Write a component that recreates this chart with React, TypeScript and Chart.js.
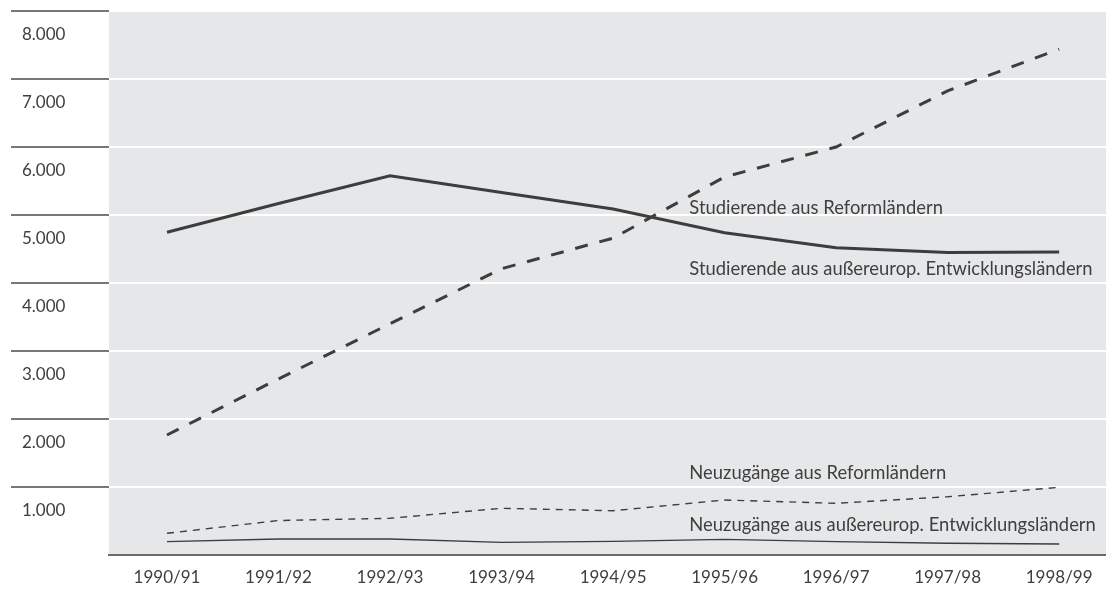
import React, { useEffect, useRef } from "react";
import { Chart, registerables } from "chart.js";

Chart.register(...registerables);

// ---- data ----
const categories = ["1990/91", "1991/92", "1992/93", "1993/94", "1994/95", "1995/96", "1996/97", "1997/98", "1998/99"];
const studierendeReform = [1765, 2590, 3400, 4210, 4660, 5560, 6000, 6825, 7440];
const studierendeEntw = [4746, 5169, 5578, 5332, 5088, 4740, 4520, 4450, 4455];
const neuzugaengeReform = [319, 507, 540, 687, 651, 809, 760, 857, 995];
const neuzugaengeEntw = [196, 235, 235, 186, 201, 230, 196, 172, 162];
const yTickValues = [0, 1000, 2000, 3000, 4000, 5000, 6000, 7000, 8000];
const yTickLabels = ["", "1.000", "2.000", "3.000", "4.000", "5.000", "6.000", "7.000", "8.000"];
const seriesNames = [
  "Studierende aus Reformländern",
  "Studierende aus außereurop. Entwicklungsländern",
  "Neuzugänge aus Reformländern",
  "Neuzugänge aus außereurop. Entwicklungsländern",
];
const labelXIndex = [4.684, 4.684, 4.684, 4.684];
const labelYValue = [5096, 4199, 1199, 441];

const FONT = "Lato";
const TEXT_COLOR = "#3f3f3f";
const LINE_COLOR = "#3d3d3d";

const bgPlugin = {
  id: "plotBg",
  beforeDraw(chart: any) {
    const { ctx, chartArea } = chart;
    ctx.save();
    ctx.fillStyle = "#e6e7e8";
    ctx.fillRect(chartArea.left, chartArea.top, chartArea.right - chartArea.left, chartArea.bottom - chartArea.top);
    ctx.restore();
  },
};

const seriesLabelPlugin = {
  id: "seriesLabels",
  afterDatasetsDraw(chart: any) {
    const { ctx, scales } = chart;
    ctx.save();
    ctx.font = `18.4px ${FONT}`;
    ctx.fillStyle = TEXT_COLOR;
    ctx.textAlign = "left";
    ctx.textBaseline = "middle";
    seriesNames.forEach((name, i) => {
      const x = scales.x.getPixelForValue(labelXIndex[i]);
      const y = scales.y.getPixelForValue(labelYValue[i]);
      ctx.fillText(name, x, y);
    });
    ctx.restore();
  },
};

function toPoints(values: number[]) {
  return values.map((v, i) => ({ x: i, y: v }));
}

export default function App() {
  const ref = useRef<HTMLCanvasElement | null>(null);

  useEffect(() => {
    if (!ref.current) return;
    const chart = new Chart(ref.current, {
      type: "line",
      data: {
        datasets: [
          {
            label: seriesNames[0],
            data: toPoints(studierendeReform),
            borderColor: LINE_COLOR,
            borderWidth: 3,
            borderDash: [13, 12],
            pointRadius: 0,
            tension: 0,
          },
          {
            label: seriesNames[1],
            data: toPoints(studierendeEntw),
            borderColor: LINE_COLOR,
            borderWidth: 3,
            pointRadius: 0,
            tension: 0,
          },
          {
            label: seriesNames[2],
            data: toPoints(neuzugaengeReform),
            borderColor: LINE_COLOR,
            borderWidth: 1.4,
            borderDash: [7, 6],
            pointRadius: 0,
            tension: 0,
          },
          {
            label: seriesNames[3],
            data: toPoints(neuzugaengeEntw),
            borderColor: LINE_COLOR,
            borderWidth: 1.4,
            pointRadius: 0,
            tension: 0,
          },
        ],
      },
      options: {
        animation: false,
        responsive: false,
        devicePixelRatio: 1,
        layout: { padding: { left: 22, top: 11, right: 0, bottom: 0 } },
        plugins: {
          legend: { display: false },
          tooltip: { enabled: false },
        },
        scales: {
          x: {
            type: "linear",
            min: -0.52,
            max: 8.42,
            afterBuildTicks: (scale: any) => {
              scale.ticks = categories.map((_, i) => ({ value: i }));
            },
            afterFit: (scale: any) => {
              scale.height = 43;
            },
            grid: { display: false, drawTicks: false },
            border: { display: true, color: "#6b6b6b", width: 2 },
            ticks: {
              padding: 12,
              color: TEXT_COLOR,
              font: { family: FONT, size: 17 },
              callback: (v: any) => categories[v as number] ?? "",
              maxRotation: 0,
              autoSkip: false,
            },
          },
          y: {
            type: "linear",
            min: 0,
            max: 8000,
            afterBuildTicks: (scale: any) => {
              scale.ticks = yTickValues.map((v) => ({ value: v }));
            },
            afterFit: (scale: any) => {
              scale.width = 87;
            },
            border: { display: false },
            grid: {
              color: (c: any) => (c.tick && c.tick.value === 0 ? "rgba(0,0,0,0)" : "#ffffff"),
              lineWidth: 2,
              drawTicks: true,
              tickLength: 98,
              tickWidth: 1.5,
              tickColor: (c: any) => (c.tick && c.tick.value === 0 ? "rgba(0,0,0,0)" : "#4a4a4a"),
            },
            ticks: {
              crossAlign: "far",
              padding: 0,
              labelOffset: 24,
              color: TEXT_COLOR,
              font: { family: FONT, size: 17 },
              callback: (_v: any, i: number) => yTickLabels[i] ?? "",
              autoSkip: false,
            },
          },
        },
      },
      plugins: [bgPlugin, seriesLabelPlugin],
    } as any);
    return () => chart.destroy();
  }, []);

  return (
    <div style={{ position: "absolute", left: 0, top: 0, width: 1106, height: 598, background: "#ffffff" }}>
      <canvas ref={ref} width={1106} height={598} />
    </div>
  );
}
